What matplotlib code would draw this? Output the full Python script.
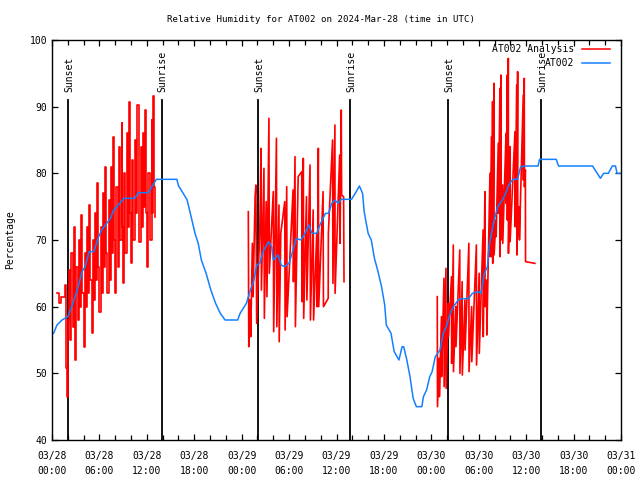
import matplotlib
matplotlib.use("Agg")
import matplotlib.pyplot as plt
from matplotlib.ticker import MultipleLocator

plt.rcParams['font.family'] = ['DejaVu Sans Mono']

title = "Relative Humidity for AT002 on 2024-Mar-28 (time in UTC)"
ylabel = "Percentage"

tick_hours = [0, 6, 12, 18, 24, 30, 36, 42, 48, 54, 60, 66, 72]
tick_labels = ["03/28\n00:00", "03/28\n06:00", "03/28\n12:00", "03/28\n18:00",
               "03/29\n00:00", "03/29\n06:00", "03/29\n12:00", "03/29\n18:00",
               "03/30\n00:00", "03/30\n06:00", "03/30\n12:00", "03/30\n18:00",
               "03/31\n00:00"]

sun_hours = [2.02, 13.86, 26.07, 37.77, 50.1, 61.87]
sun_labels = ["Sunset", "Sunrise", "Sunset", "Sunrise", "Sunset", "Sunrise"]

# AT002 observations (hours since 03/28 00:00 UTC, %)
blue_hours = [0.0, 0.2, 0.63, 1.27, 2.0, 2.5, 3.2, 3.8, 4.2, 4.7, 5.3, 5.9, 6.3, 6.75,
              7.4, 7.8, 8.4, 9.1, 10.5, 10.9, 12.2, 12.65, 13.2, 15.8, 16.0, 16.6, 17.1,
              17.5, 18.1, 18.5, 18.9, 19.5, 20.1, 20.7, 21.3, 21.9, 23.5, 23.8, 24.6,
              25.1, 25.5, 25.9, 26.3, 26.7, 27.4, 27.8, 28.0, 28.6, 29.0, 29.4, 30.0,
              30.5, 30.9, 31.5, 31.9, 32.5, 32.9, 33.5, 33.9, 34.6, 35.0, 35.4, 35.8,
              36.2, 36.6, 37.9, 38.5, 38.9, 39.3, 39.5, 40.0, 40.4, 40.8, 41.2, 41.7,
              42.1, 42.3, 42.9, 43.3, 43.9, 44.3, 44.5, 44.9, 45.3, 45.7, 46.1, 46.8,
              47.0, 47.4, 47.8, 48.1, 48.5, 49.1, 49.5, 49.9, 50.4, 50.8, 51.4, 51.8,
              52.7, 53.2, 53.9, 54.3, 54.7, 55.1, 55.3, 55.9, 56.4, 57.0, 57.4, 57.8,
              58.3, 58.9, 59.3, 60.0, 61.5, 61.7, 63.8, 64.1, 68.4, 69.4, 69.8, 70.4,
              70.9, 71.3, 71.5, 72.0]
blue_values = [56, 56, 57.25, 58, 58.5, 60, 62.5, 65.25, 66, 68.25, 68.25, 70.5, 71.5, 72.25,
               73.25, 74.5, 75.25, 76.25, 76.25, 77.1, 77.1, 78, 79.1, 79.1, 78.15, 77, 76,
               74, 71, 69.5, 67, 65, 62.5, 60.5, 59, 58, 58, 59, 60.5,
               62.5, 63.75, 66.25, 66.5, 68.25, 69.75, 69, 67, 67.75, 66.25, 66, 66.5,
               68.5, 70.25, 70, 70.75, 72.25, 71, 71, 72.25, 74, 74, 75.5, 76,
               75.5, 76.1, 76.1, 77.25, 78.1, 77, 74.25, 71, 70, 67.25, 65.5, 63,
               60.25, 57.25, 56, 53.25, 52, 54, 54, 52, 49.5, 46.25, 45, 45,
               46.5, 47.5, 49.5, 50.25, 52.5, 53.5, 56, 57, 59, 60, 61, 61.2,
               61.2, 62, 62.25, 62, 65, 66, 69, 72.75, 75, 76, 77, 78.25,
               79.1, 79.1, 81, 81.1, 81.1, 82.1, 82.1, 81.1, 81.1, 79.25, 80, 80,
               81.1, 81.1, 80, 80]

# AT002 Analysis (three segments)
red1_hours = [0.63, 0.9, 1.2, 1.6, 1.75, 1.9, 2.0, 2.15, 2.3, 2.45, 2.6, 2.74, 2.85, 2.95,
              3.1, 3.25, 3.4, 3.55, 3.7, 3.85, 4.0, 4.15, 4.3, 4.45, 4.55, 4.64, 4.8, 5.0,
              5.15, 5.3, 5.5, 5.6, 5.7, 5.85, 6.0, 6.15, 6.3, 6.5, 6.6, 6.66, 6.8, 7.0,
              7.15, 7.3, 7.5, 7.6, 7.7, 7.85, 8.0, 8.15, 8.3, 8.5, 8.65, 8.8, 8.9, 9.0,
              9.15, 9.3, 9.5, 9.65, 9.8, 9.9, 10.0, 10.15, 10.3, 10.5, 10.65, 10.8, 10.95,
              11.05, 11.2, 11.35, 11.5, 11.65, 11.8, 11.95, 12.06, 12.2, 12.4, 12.6, 12.7,
              12.8, 12.9, 13.07]
red1_values = [62, 60.5, 61.5, 63.3, 50.8, 46.5, 58, 65.5, 55, 68, 57, 72, 60, 52,
               66, 58, 70, 60, 73.75, 62, 54, 68, 60, 72, 62, 75.25, 64, 56,
               70, 61, 74, 64, 78.5, 66, 59.25, 72, 62, 77, 66, 81, 68, 62,
               76, 64, 81, 68, 85.5, 70, 62, 78, 66, 84, 70, 87.5, 72, 63.5,
               80, 68, 86, 72, 90.75, 74, 66.5, 82, 70, 85, 74, 90.25, 76,
               69.75, 84, 72, 86, 75, 89.5, 74, 66, 80, 70, 88, 74,
               91.6, 78, 73.5]
red2_hours = [24.84, 24.9, 25.05, 25.15, 25.35, 25.45, 25.7, 25.8, 25.9, 26.3, 26.45, 26.5,
              26.82, 26.87, 27.1, 27.2, 27.45, 27.5, 28.0, 28.05, 28.4, 28.45, 28.72, 28.75,
              28.95, 29.45, 29.5, 29.7, 29.75, 30.5, 30.55, 30.75, 30.8, 31.15, 31.6, 31.65,
              31.8, 31.85, 32.2, 32.25, 32.65, 32.7, 33.05, 33.1, 33.5, 33.55, 33.7, 33.75,
              34.3, 34.35, 34.95, 34.97, 35.5, 35.55, 35.8, 35.82, 36.4, 36.45, 36.6, 36.65,
              36.9, 36.95]
red2_values = [74.25, 54, 61, 55.5, 69.5, 61.5, 76.5, 78.25, 57.5, 72, 83.75, 62.5,
               80.75, 58.25, 75.75, 61.5, 88.25, 65, 77.25, 56.25, 85.25, 57, 75.25, 54.75,
               71, 75.75, 56.5, 78, 58.5, 77.5, 63.75, 82.5, 57, 79.5, 80.25, 60.75,
               82.25, 58.25, 76.5, 61, 81.25, 58, 74.5, 58, 71, 60, 83.75, 60,
               77.25, 60, 61.25, 71, 85, 63.5, 87.25, 62, 82.75, 69.5, 89.5, 76.75,
               76.5, 63.75]
red3_hours = [48.75, 48.78, 49.0, 49.02, 49.28, 49.3, 49.6, 49.62, 49.85, 49.87, 50.15, 50.17,
              50.55, 50.57, 50.78, 50.8, 51.1, 51.12, 51.6, 51.62, 51.9, 51.92, 52.25, 52.27,
              52.75, 52.77, 53.1, 53.12, 53.7, 53.72, 54.05, 54.07, 54.55, 54.57, 54.78, 54.8,
              55.0, 55.02, 55.42, 55.44, 55.63, 55.65, 55.75, 55.77, 55.92, 55.94, 56.18, 56.2,
              56.47, 56.49, 56.68, 56.7, 56.8, 56.82, 57.02, 57.04, 57.45, 57.47, 57.6, 57.62,
              57.74, 57.76, 57.95, 57.97, 58.58, 58.6, 58.8, 58.82, 58.92, 58.94, 59.13, 59.15,
              59.63, 59.65, 59.76, 59.78, 59.9, 59.92, 61.1]
red3_values = [61.5, 45, 52.25, 46.5, 58.5, 49.5, 64.25, 48, 65.75, 47.75, 60.5, 55.5,
               64.5, 51.5, 69.25, 50.25, 60, 54, 68.5, 50, 63.75, 49.75, 61, 53.5,
               69.5, 50.25, 60, 51.75, 69.25, 51.25, 65, 53, 71.5, 55.5, 77.25, 60,
               64, 55.75, 80, 67.5, 85.5, 67.5, 90.75, 66.5, 93.5, 67.75, 73, 70.5,
               84.5, 74, 92.75, 67.5, 94.75, 70, 78.25, 69.5, 86, 75.5, 94.75, 73,
               97.25, 68, 84, 69.75, 86.25, 72, 93.25, 67.75, 95.25, 70.5, 75, 70,
               91.75, 79, 94.25, 78, 80.5, 66.75, 66.5]

red = "#ff0000"
blue = "#1580ff"

fig = plt.figure(figsize=(6.4, 4.8), dpi=100)
ax = fig.add_axes([52/640, 40/480, 569/640, 400/480])

for h, lab in zip(sun_hours, sun_labels):
    ax.plot([h, h], [40, 91], color="black", lw=1.3, zorder=1)
    ax.text(h + 0.15, 92.2, lab, rotation=90, ha="center", va="bottom", fontsize=7, zorder=3)

ax.plot(red1_hours, red1_values, color=red, lw=1.2, drawstyle="steps-post", zorder=2)
ax.plot(red2_hours, red2_values, color=red, lw=1.2, zorder=2)
ax.plot(red3_hours, red3_values, color=red, lw=1.2, zorder=2)
ax.plot(blue_hours, blue_values, color=blue, lw=1.1, zorder=2.5)

ax.set_xlim(0, 72)
ax.set_ylim(40, 100)
ax.set_xticks(tick_hours)
ax.set_xticklabels(tick_labels, fontsize=7, linespacing=1.55)
ax.xaxis.set_minor_locator(MultipleLocator(2))
ax.set_yticks([40, 50, 60, 70, 80, 90, 100])
ax.tick_params(axis="y", labelsize=7)
ax.tick_params(which="both", direction="in", top=True, right=True, length=4.5, width=0.9)
ax.tick_params(which="minor", length=3.5)
ax.tick_params(axis="x", pad=8)
for s in ax.spines.values():
    s.set_linewidth(1.0)

fig.text(321/640, 1 - 19/480, title, ha="center", va="center", fontsize=6.6)
ax.set_ylabel(ylabel, fontsize=7, labelpad=10)

# legend (manual, gnuplot-like)
tr = ax.transAxes
ax.text((574-52)/569, (440-49)/400, "AT002 Analysis", ha="right", va="center", fontsize=7, transform=tr)
ax.plot([(582-52)/569, (610-52)/569], [(440-49)/400]*2, color=red, lw=1.1, transform=tr, clip_on=False)
ax.text((574-52)/569, (440-63)/400, "AT002", ha="right", va="center", fontsize=7, transform=tr)
ax.plot([(582-52)/569, (610-52)/569], [(440-63)/400]*2, color=blue, lw=1.1, transform=tr, clip_on=False)

fig.savefig("out.png", dpi=100)
